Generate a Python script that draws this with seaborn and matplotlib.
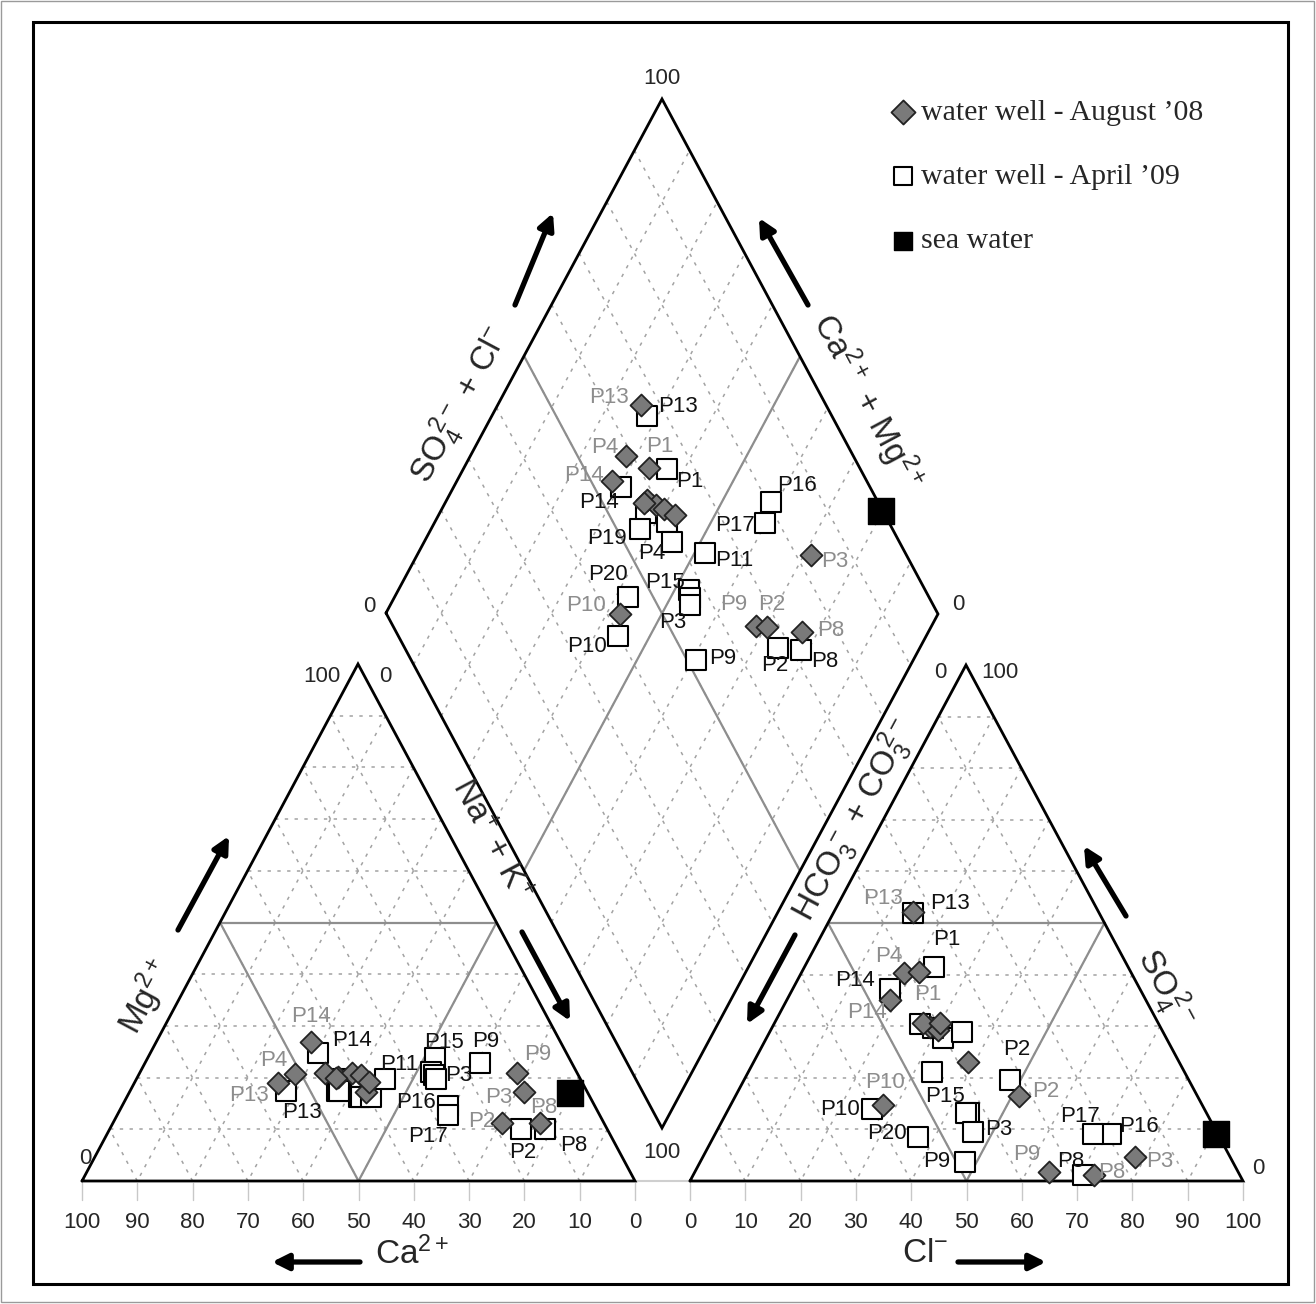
import numpy as np
import pandas as pd
import matplotlib
matplotlib.use("Agg")
import matplotlib.pyplot as plt
import seaborn as sns

# ---------------- data (% meq/l) ----------------
# water well - August '08
aug_names = ["P13", "P4", "P1", "P14", "a5", "a6", "a7", "a8", "a9", "P10", "P9", "P3", "P2", "P8"]
aug_ca   = [55.0, 51.1, 45.6, 45.2, 43.6, 40.8, 44.0, 39.3, 40.0, 38.4, 11.0, 11.5, 18.4, 11.6]
aug_mg   = [19.0, 20.7, 20.8, 26.8, 20.1, 20.8, 20.0, 20.5, 17.2, 19.2, 20.8, 17.2, 11.2, 11.2]
aug_nak  = [26.0, 28.2, 33.6, 28.0, 36.3, 38.4, 36.0, 40.2, 42.8, 42.4, 68.2, 71.3, 70.4, 77.2]
aug_hco3 = [33.5, 41.2, 38.2, 46.2, 41.6, 40.5, 42.5, 39.4, 38.1, 57.7, 34.1, 17.2, 32.2, 26.4]
aug_so4  = [52.2, 40.3, 40.6, 35.1, 29.9, 29.3, 30.6, 30.6, 23.1, 14.7, 1.8, 4.6, 16.5, 1.2]
aug_cl   = [14.3, 18.5, 21.2, 18.7, 28.5, 30.2, 26.9, 30.0, 38.8, 27.6, 64.1, 78.2, 51.3, 72.4]

# water well - April '09
apr_names = ["P13", "P1", "P14", "b4", "P19", "b6", "P20", "P10", "P4", "P11", "b11",
             "P15", "P3", "P16", "P17", "P9", "P2", "P8"]
apr_ca   = [54.4, 43.3, 45.0, 45.2, 44.7, 41.8, 41.5, 39.6, 35.4, 24.3, 26.3, 26.0, 26.0, 26.6, 27.4, 16.6, 15.6, 11.3]
apr_mg   = [17.5, 19.8, 24.7, 17.5, 17.5, 16.2, 16.2, 16.2, 19.7, 23.8, 21.1, 20.5, 19.8, 14.5, 12.8, 22.8, 10.0, 10.0]
apr_nak  = [28.1, 36.9, 30.3, 37.3, 37.8, 42.0, 42.3, 44.2, 44.9, 51.9, 52.6, 53.5, 54.2, 58.9, 59.8, 60.6, 74.4, 78.7]
apr_hco3 = [33.6, 35.1, 45.2, 43.2, 45.7, 40.3, 54.5, 60.2, 41.2, 36.4, 42.9, 43.5, 44.1, 19.3, 22.6, 48.4, 32.3, 28.3]
apr_so4  = [51.9, 41.5, 37.3, 30.4, 21.2, 27.7, 8.6, 13.9, 29.6, 28.9, 13.1, 13.1, 9.4, 9.2, 9.2, 3.6, 19.6, 1.2]
apr_cl   = [14.5, 23.4, 17.5, 26.4, 33.1, 32.0, 36.9, 25.9, 29.2, 34.7, 44.0, 43.4, 46.5, 71.5, 68.2, 48.0, 48.1, 70.5]

# sea water
sea_ca, sea_mg, sea_nak = [3.3], [17.0], [79.7]
sea_hco3, sea_so4, sea_cl = [0.3], [9.1], [90.6]

tick_values = list(range(0, 101, 10))

# ---------------- layout of the diagram (pixel frame) ----------------
W, H = 1316, 1304
CAT_CA, CAT_NA, CAT_MG = np.array([82, 1181]), np.array([635, 1181]), np.array([358, 664])
AN_HC, AN_CL, AN_SO = np.array([690, 1181]), np.array([1243, 1181]), np.array([966, 665])
D_L, D_B, D_T = np.array([386, 613]), np.array([662, 1128]), np.array([662, 99])
D_R = D_B + D_T - D_L


def tern(a, b, c, A, B, C):
    a, b, c = (np.asarray(v, float) for v in (a, b, c))
    s = a + b + c
    x = (a * A[0] + b * B[0] + c * C[0]) / s
    y = (a * A[1] + b * B[1] + c * C[1]) / s
    return x, y


def diamond(ca, mg, nak, hco3, so4, cl):
    p = np.asarray(nak, float) / (np.asarray(ca) + np.asarray(mg) + np.asarray(nak))
    q = (np.asarray(so4, float) + np.asarray(cl)) / (np.asarray(hco3) + np.asarray(so4) + np.asarray(cl))
    x = D_L[0] + p * (D_B - D_L)[0] + q * (D_T - D_L)[0]
    y = D_L[1] + p * (D_B - D_L)[1] + q * (D_T - D_L)[1]
    return x, y


def panels(names, ca, mg, nak, hco3, so4, cl):
    cx, cy = tern(ca, mg, nak, CAT_CA, CAT_MG, CAT_NA)
    ax_, ay_ = tern(hco3, so4, cl, AN_HC, AN_SO, AN_CL)
    dx, dy = diamond(ca, mg, nak, hco3, so4, cl)
    return pd.DataFrame({"name": names, "cx": cx, "cy": cy, "ax": ax_, "ay": ay_, "dx": dx, "dy": dy})


aug = panels(aug_names, aug_ca, aug_mg, aug_nak, aug_hco3, aug_so4, aug_cl)
apr = panels(apr_names, apr_ca, apr_mg, apr_nak, apr_hco3, apr_so4, apr_cl)
sea = panels(["sea"], sea_ca, sea_mg, sea_nak, sea_hco3, sea_so4, sea_cl)

sns.set_style("white")
plt.rcParams["font.family"] = ["Liberation Sans", "DejaVu Sans"]
plt.rcParams["mathtext.fontset"] = "custom"
plt.rcParams["mathtext.rm"] = "Liberation Sans"
plt.rcParams["mathtext.it"] = "Liberation Sans"
plt.rcParams["mathtext.bf"] = "Liberation Sans:bold"

fig = plt.figure(figsize=(W / 100, H / 100), dpi=100)
ax = fig.add_axes([0, 0, 1, 1])

GRID = dict(ls=(0, (2.2, 4.2)), color="#a2a2a2", lw=1.1, zorder=1)
CLASS = dict(color="#8e8e8e", lw=1.6, zorder=2)
EDGE = dict(color="black", lw=2.0, zorder=3, solid_joinstyle="miter")


def seg(p1, p2, **kw):
    ax.plot([p1[0], p2[0]], [p1[1], p2[1]], **kw)


def triangle(A, B, C):
    for k in range(1, 10):
        f = k / 10
        for V0, V1, V2 in [(A, B, C), (B, C, A), (C, A, B)]:
            seg(f * V0 + (1 - f) * V1, f * V0 + (1 - f) * V2, **GRID)
    mAB, mBC, mCA = (A + B) / 2, (B + C) / 2, (C + A) / 2
    seg(mAB, mBC, **CLASS); seg(mBC, mCA, **CLASS); seg(mCA, mAB, **CLASS)
    ax.plot([A[0], B[0], C[0], A[0]], [A[1], B[1], C[1], A[1]], **EDGE)


triangle(CAT_CA, CAT_NA, CAT_MG)
triangle(AN_HC, AN_CL, AN_SO)

for k in range(1, 10):
    f = k / 10
    p1 = D_L + f * (D_B - D_L)
    seg(p1, p1 + (D_T - D_L), **GRID)
    p1 = D_L + f * (D_T - D_L)
    seg(p1, p1 + (D_B - D_L), **GRID)
seg((D_L + D_T) / 2, (D_B + D_R) / 2, **CLASS)
seg((D_T + D_R) / 2, (D_L + D_B) / 2, **CLASS)
ax.plot([D_L[0], D_B[0], D_R[0], D_T[0], D_L[0]], [D_L[1], D_B[1], D_R[1], D_T[1], D_L[1]], **EDGE)
seg(CAT_NA, AN_HC, color="#cfcfcf", lw=1.5, zorder=1)

# bottom ticks and tick labels
TICK_FS = 16
tx, ty = tern(tick_values, [0] * 11, [100 - v for v in tick_values], CAT_CA, CAT_MG, CAT_NA)
for v, x in zip(tick_values, tx):
    ax.plot([x, x], [1183, 1200], color="#c8c8c8", lw=1, zorder=1)
    ax.text(x, 1222, str(v), ha="center", va="center", fontsize=TICK_FS)
tx, ty = tern([100 - v for v in tick_values], [0] * 11, tick_values, AN_HC, AN_SO, AN_CL)
for v, x in zip(tick_values, tx):
    ax.plot([x, x], [1183, 1200], color="#c8c8c8", lw=1, zorder=1)
    ax.text(x, 1222, str(v), ha="center", va="center", fontsize=TICK_FS)

# corner numbers
for s, x, y in [("100", 662, 79), ("0", 369, 606), ("0", 958, 604), ("100", 322, 676),
                ("0", 385, 676), ("0", 85, 1158), ("100", 662, 1153), ("0", 940, 672),
                ("100", 1000, 672), ("0", 1258, 1168)]:
    ax.text(x, y, s, ha="center", va="center", fontsize=TICK_FS)

# axis titles and arrows
AX_FS = 24
for s, x, y, r in [(r"Mg$^{2+}$", 146, 997, 61.9),
                   (r"Na$^{+}$ + K$^{+}$", 490, 840, -61.9),
                   (r"SO$_4^{\,2-}$ + Cl$^{-}$", 460, 405, 61.8),
                   (r"Ca$^{2+}$ + Mg$^{2+}$", 867, 402, -61.8),
                   (r"HCO$_3^{\,-}$ + CO$_3^{\,2-}$", 855, 820, 61.7),
                   (r"SO$_4^{\,2-}$", 1165, 988, -61.9),
                   (r"Ca$^{2+}$", 412, 1254, 0),
                   (r"Cl$^{-}$", 925, 1254, 0)]:
    ax.text(x, y, s, ha="center", va="center", fontsize=AX_FS, rotation=r,
            rotation_mode="anchor")

for tail, head in [((178, 930), (229, 836)), ((522, 932), (570, 1021)),
                   ((515, 305), (553, 213)), ((808, 305), (759, 218)),
                   ((795, 935), (747, 1024)), ((1126, 916), (1084, 846)),
                   ((360, 1262), (272, 1262)), ((958, 1262), (1046, 1262))]:
    ax.annotate("", xy=head, xytext=tail,
                arrowprops=dict(arrowstyle="-|>", lw=3.8, color="black",
                                mutation_scale=24, shrinkA=0, shrinkB=0))

# ---------------- markers ----------------
for xc, yc in [("cx", "cy"), ("ax", "ay"), ("dx", "dy")]:
    first = xc == "cx"
    sns.scatterplot(data=apr, x=xc, y=yc, ax=ax, marker="s", s=190, color="white",
                    edgecolor="black", linewidth=1.5, zorder=5,
                    label="water well - April \u201909" if first else None, legend=False)
    sns.scatterplot(data=aug, x=xc, y=yc, ax=ax, marker="D", s=125, color="#7a7a7a",
                    edgecolor="#222222", linewidth=1.3, zorder=6,
                    label="water well - August \u201908" if first else None, legend=False)
    sns.scatterplot(data=sea, x=xc, y=yc, ax=ax, marker="s", s=330, color="black",
                    edgecolor="black", linewidth=1, zorder=7,
                    label="sea water" if first else None, legend=False)

# sample labels: (panel, name, dx, dy) offsets in pixels
aug_lab = {
    "dia": {"P13": (-32, -8), "P4": (-21, -8), "P1": (11, -22), "P14": (-28, -5), "P3": (23, 7),
            "P10": (-34, -8), "P9": (-22, -21), "P2": (4, -23), "P8": (29, -2)},
    "cat": {"P14": (0, -26), "P4": (-21, -13), "P13": (-29, 13), "P9": (21, -19), "P3": (-25, 5),
            "P8": (4, -16), "P2": (-20, -2)},
    "an": {"P13": (-30, -13), "P4": (-15, -17), "P1": (9, 23), "P14": (-23, 13), "P10": (2, -23),
           "P2": (27, -4), "P9": (-23, -17), "P8": (18, -2), "P3": (25, 4)},
}
apr_lab = {
    "dia": {"P13": (31, -10), "P1": (23, 12), "P14": (-22, 15), "P19": (-33, 10), "P4": (-20, 11),
            "P11": (29, 7), "P16": (26, -16), "P17": (-30, 2), "P20": (-20, -22), "P15": (-25, -16),
            "P3": (-17, 18), "P10": (-31, 10), "P9": (27, -1), "P2": (-3, 17), "P8": (24, 12)},
    "cat": {"P14": (34, -13), "P13": (16, 22), "P11": (-35, 7), "P15": (10, -33), "P9": (6, -22),
            "P3": (22, -3), "P16": (-32, -4), "P17": (-20, 22), "P2": (2, 23), "P8": (29, 16)},
    "an": {"P13": (37, -10), "P1": (13, -27), "P14": (-35, -8), "P2": (7, -30), "P10": (-32, 0),
           "P15": (-21, -17), "P3": (26, -3), "P20": (-31, -3), "P9": (-29, -1), "P17": (-13, -17),
           "P16": (28, -7), "P8": (-12, -13)},
}
cols = {"cat": ("cx", "cy"), "an": ("ax", "ay"), "dia": ("dx", "dy")}
for df, labs, colr in [(aug, aug_lab, "#8d8d8d"), (apr, apr_lab, "#111111")]:
    for panel, d in labs.items():
        xc, yc = cols[panel]
        for name, (ox, oy) in d.items():
            row = df[df["name"] == name].iloc[0]
            ax.text(row[xc] + ox, row[yc] + oy, name, ha="center", va="center",
                    fontsize=16, color=colr, zorder=8)

# legend
h, l = ax.get_legend_handles_labels()
order = [l.index("water well - August \u201908"), l.index("water well - April \u201909"),
         l.index("sea water")]
leg = ax.legend([h[i] for i in order], [l[i] for i in order], loc="upper left",
                bbox_to_anchor=(894 / W, 1 - 99 / H), frameon=False, borderpad=0,
                borderaxespad=0, handlelength=0.6, handletextpad=0.3, labelspacing=1.25,
                prop={"family": "Liberation Serif", "size": 21.5})
for hd in leg.legend_handles:
    hd.set_sizes([150])

# frames
ax.add_patch(plt.Rectangle((33, 22), 1255, 1262, fill=False, lw=2.2, ec="black", zorder=9))
ax.add_patch(plt.Rectangle((1, 1), W - 3, H - 3, fill=False, lw=1.0, ec="#9a9a9a", zorder=9))

ax.set_xlim(0, W)
ax.set_ylim(H, 0)
ax.axis("off")
fig.savefig("out.png", dpi=100)
